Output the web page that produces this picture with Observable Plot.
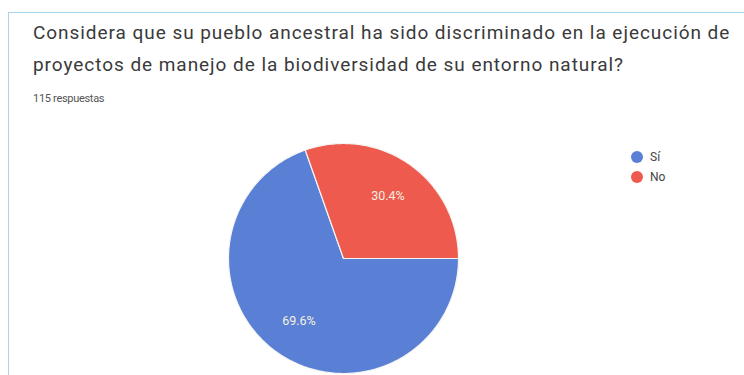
<!DOCTYPE html>
<html>
<head>
<meta charset="utf-8">
<script src="https://cdn.jsdelivr.net/npm/d3@7"></script>
<script src="https://cdn.jsdelivr.net/npm/@observablehq/plot@0.6"></script>
<style>
  html, body { margin: 0; padding: 0; background: #fff; width: 744px; height: 375px; overflow: hidden; }
  body { position: relative; font-family: Roboto, "Noto Sans", sans-serif; }
  #card { position: absolute; left: 8px; top: 12px; width: 760px; height: 400px;
          border-left: 1.5px solid #a9d3ee; border-top: 1.5px solid #a9d3ee; box-sizing: border-box; }
  #title { position: absolute; left: 33px; top: 17px; font-size: 19px; letter-spacing: 0.95px; line-height: 32px; color: #3a3a3a; white-space: nowrap; }
  #sub { position: absolute; left: 33px; top: 92px; font-size: 11px; letter-spacing: -0.3px; color: #555; }
  #chart { position: absolute; left: 0; top: 135px; }
  #legend { position: absolute; left: 631px; top: 147px; font-size: 12px; color: #444; }
  #legend div { height: 20px; line-height: 20px; display: flex; align-items: center; }
  #legend span.sw { display: inline-block; width: 12px; height: 12px; border-radius: 50%; margin-right: 7px; }
</style>
</head>
<body>
<div id="card"></div>
<div id="title">Considera que su pueblo ancestral ha sido discriminado en la ejecución de<br>proyectos de manejo de la biodiversidad de su entorno natural?</div>
<div id="sub">115 respuestas</div>
<div id="chart"></div>
<div id="legend"></div>
<script>
const answers = ["Sí", "No"];
const percents = [69.6, 30.4];
const colors = ["#5a80d6", "#ef5a4e"];
const labels = ["69.6%", "30.4%"];

const data = answers.map((a, i) => ({answer: a, value: percents[i], label: labels[i]}));

// Pie layout: first slice starts at 3 o'clock, clockwise
const pie = d3.pie().value(d => d.value).sort(null)
  .startAngle(Math.PI / 2).endAngle(Math.PI / 2 + 2 * Math.PI);
const arcs = pie(data);

// polygon vertices (unit circle) for each slice
const poly = [];
const step = Math.PI / 180;
for (const a of arcs) {
  poly.push({answer: a.data.answer, x: 0, y: 0});
  const n = Math.ceil((a.endAngle - a.startAngle) / step);
  for (let k = 0; k <= n; k++) {
    const t = a.startAngle + (a.endAngle - a.startAngle) * k / n;
    poly.push({answer: a.data.answer, x: Math.sin(t), y: Math.cos(t)});
  }
  poly.push({answer: a.data.answer, x: 0, y: 0});
}
const labelPts = arcs.map(a => {
  const m = (a.startAngle + a.endAngle) / 2;
  return {label: a.data.label, x: 0.67 * Math.sin(m), y: 0.67 * Math.cos(m)};
});

const cx = 343, cy = 258 - 135, R = 115;
const plot = Plot.plot({
  width: 744,
  height: 240,
  margin: 0,
  x: {domain: [-1, 1], range: [cx - R, cx + R], axis: null},
  y: {domain: [-1, 1], range: [cy + R, cy - R], axis: null},
  color: {domain: answers, range: colors},
  style: {background: "transparent", fontFamily: "Roboto, sans-serif"},
  marks: [
    Plot.line(poly, {x: "x", y: "y", z: "answer", fill: "answer", stroke: "#f4f4f4", strokeWidth: 1.2, curve: "linear"}),
    Plot.text(labelPts, {x: "x", y: "y", text: "label", fill: "#f6f0e0", fontSize: 12.5})
  ]
});
document.getElementById("chart").appendChild(plot);

const lg = document.getElementById("legend");
answers.forEach((a, i) => {
  const row = document.createElement("div");
  const sw = document.createElement("span");
  sw.className = "sw";
  sw.style.background = colors[i];
  row.appendChild(sw);
  row.appendChild(document.createTextNode(a));
  lg.appendChild(row);
});
</script>
</body>
</html>
